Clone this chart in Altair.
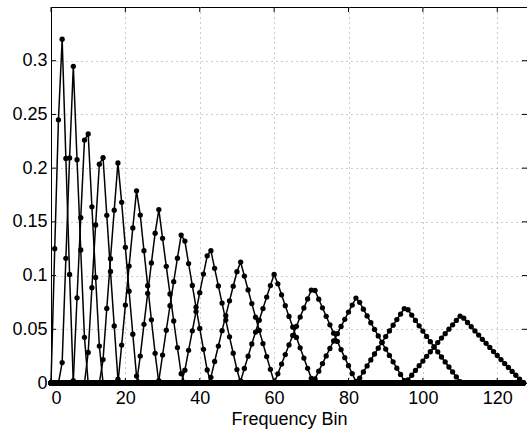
import altair as alt
import pandas as pd

# Frequency bins shown on the x axis
bins = list(range(0, 128))

# First non-zero bin of each triangular filter
filter_start = [1, 3, 6, 10, 14, 19, 24, 29, 36, 43, 51, 61, 71, 83, 96]

# Non-zero weights of each filter, starting at filter_start
f1 = [0.125, 0.245, 0.320, 0.209, 0.101]
f2 = [0.0190, 0.1161, 0.2095, 0.2948, 0.2079, 0.1238, 0.0425]
f3 = [0.0021, 0.0793, 0.1539, 0.2261, 0.2318, 0.1640, 0.0982, 0.0344]
f4 = [0.0285, 0.0887, 0.1471, 0.2037, 0.2097, 0.1561, 0.1039, 0.0531, 0.0035]
f5 = [0.0218, 0.0694, 0.1157, 0.1609, 0.2049, 0.1682, 0.1263, 0.0854, 0.0454, 0.0064]
f6 = [0.0353, 0.0725, 0.1088, 0.1443, 0.1789, 0.1563, 0.1231, 0.0906, 0.0588, 0.0276]
f7 = [0.0251, 0.0546, 0.0835, 0.1118, 0.1395, 0.1614, 0.1347, 0.1086, 0.0829, 0.0577,
      0.0330, 0.0087]
f8 = [0.0023, 0.0260, 0.0492, 0.0719, 0.0943, 0.1162, 0.1377, 0.1321, 0.1112, 0.0908,
      0.0706, 0.0508, 0.0313, 0.0121]
f9 = [0.0119, 0.0304, 0.0486, 0.0665, 0.0841, 0.1014, 0.1184, 0.1232, 0.1067, 0.0904,
      0.0744, 0.0586, 0.0430, 0.0277, 0.0125]
f10 = [0.0053, 0.0200, 0.0344, 0.0487, 0.0627, 0.0765, 0.0901, 0.1036, 0.1126, 0.0995,
       0.0866, 0.0739, 0.0613, 0.0489, 0.0367, 0.0246, 0.0127, 0.0009]
f11 = [0.0019, 0.0135, 0.0249, 0.0363, 0.0474, 0.0584, 0.0693, 0.0800, 0.0907, 0.1011,
       0.0923, 0.0821, 0.0720, 0.0620, 0.0521, 0.0424, 0.0327, 0.0232, 0.0137, 0.0044]
f12 = [0.0085, 0.0176, 0.0265, 0.0354, 0.0442, 0.0528, 0.0614, 0.0698, 0.0782, 0.0865,
       0.0861, 0.0780, 0.0700, 0.0621, 0.0542, 0.0464, 0.0387, 0.0311, 0.0236, 0.0161,
       0.0087, 0.0014]
f13 = [0.0038, 0.0110, 0.0181, 0.0252, 0.0321, 0.0391, 0.0459, 0.0527, 0.0593, 0.0660,
       0.0725, 0.0791, 0.0751, 0.0687, 0.0624, 0.0561, 0.0499, 0.0438, 0.0377, 0.0316,
       0.0257, 0.0197, 0.0138, 0.0080, 0.0022]
f14 = [0.0046, 0.0103, 0.0159, 0.0215, 0.0270, 0.0324, 0.0378, 0.0432, 0.0485, 0.0538,
       0.0590, 0.0642, 0.0693, 0.0682, 0.0632, 0.0582, 0.0532, 0.0483, 0.0434, 0.0385,
       0.0337, 0.0290, 0.0242, 0.0196, 0.0149, 0.0103, 0.0057, 0.0012]
f15 = [0.0028, 0.0072, 0.0117, 0.0161, 0.0204, 0.0248, 0.0291, 0.0333, 0.0376, 0.0418,
       0.0459, 0.0501, 0.0542, 0.0582, 0.0623, 0.0603, 0.0563, 0.0524, 0.0485, 0.0446,
       0.0407, 0.0369, 0.0331, 0.0293, 0.0256, 0.0218, 0.0181, 0.0145, 0.0108, 0.0072,
       0.0036]
filter_values = [f1, f2, f3, f4, f5, f6, f7, f8, f9, f10, f11, f12, f13, f14, f15]

# Axis tick values
x_ticks = [0, 20, 40, 60, 80, 100, 120]
y_ticks = [0, 0.05, 0.1, 0.15, 0.2, 0.25, 0.3]

rows = []
for i, (s, vals) in enumerate(zip(filter_start, filter_values)):
    for k in bins:
        j = k - s
        v = vals[j] if 0 <= j < len(vals) else 0.0
        rows.append({"filter": i + 1, "bin": k, "value": v})
df = pd.DataFrame(rows)

W, H = 476, 376
FONT = "Liberation Sans"
FS = 18

xscale = alt.Scale(domain=[0, 128], nice=False, zero=False)
yscale = alt.Scale(domain=[0, 0.35], nice=False)

xaxis = alt.Axis(values=x_ticks, title="Frequency Bin", grid=True, ticks=False, tickSize=0,
                 labelPadding=6, titlePadding=3, format="d")
yaxis = alt.Axis(values=y_ticks, title=None, grid=True, ticks=False, tickSize=0,
                 labelPadding=4, format="~g")

base = alt.Chart(df)
lines = base.mark_line(color="black", strokeWidth=1.5).encode(
    x=alt.X("bin:Q", scale=xscale, axis=xaxis),
    y=alt.Y("value:Q", scale=yscale, axis=yaxis),
    detail="filter:N",
)
pts = base.mark_point(filled=True, color="black", size=28, opacity=1).encode(
    x=alt.X("bin:Q", scale=xscale),
    y=alt.Y("value:Q", scale=yscale),
)

xt = pd.DataFrame({"t": x_ticks})
yt = pd.DataFrame({"t": y_ticks})
xt_bottom = alt.Chart(xt).mark_rule(color="black", strokeWidth=1).encode(
    x=alt.X("t:Q", scale=xscale), y=alt.value(H), y2=alt.value(H - 5))
xt_top = alt.Chart(xt).mark_rule(color="black", strokeWidth=1).encode(
    x=alt.X("t:Q", scale=xscale), y=alt.value(0), y2=alt.value(5))
yt_left = alt.Chart(yt).mark_rule(color="black", strokeWidth=1).encode(
    y=alt.Y("t:Q", scale=yscale), x=alt.value(0), x2=alt.value(5))
yt_right = alt.Chart(yt).mark_rule(color="black", strokeWidth=1).encode(
    y=alt.Y("t:Q", scale=yscale), x=alt.value(W - 5), x2=alt.value(W))

chart = alt.layer(lines, pts, xt_bottom, xt_top, yt_left, yt_right).properties(
    width=W, height=H,
    autosize=alt.AutoSizeParams(type="none"),
    padding={"left": 51, "top": 7, "right": 0, "bottom": 49},
    background="white",
).configure_view(
    stroke="black", strokeWidth=1
).configure_axis(
    labelFont=FONT, titleFont=FONT, labelFontSize=FS, titleFontSize=FS,
    labelColor="black", titleColor="black", titleFontWeight="normal",
    domainColor="black", domainWidth=1,
    gridColor="#999999", gridDash=[1, 4], gridWidth=1, gridOpacity=1,
)

chart.save("out.html", embed_options={"renderer": "svg", "actions": False})
